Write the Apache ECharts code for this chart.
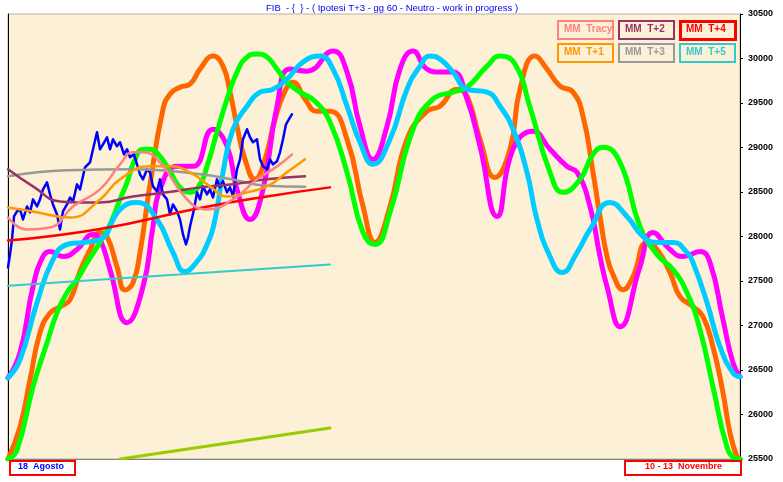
<!DOCTYPE html>
<html><head><meta charset="utf-8">
<script src="https://cdn.jsdelivr.net/npm/echarts@6/dist/echarts.min.js"></script>
<style>html,body{margin:0;padding:0;background:#fff}#c{width:783px;height:482px}</style>
</head><body><div id="c"></div>
<script>
// x = session step (0 = 18 Agosto, 732 = 13 Novembre), y = index level
const titleText = 'FIB  - {  } - ( Ipotesi T+3 - gg 60 - Neutro - work in progress )';
const yTicks = [25500, 26000, 26500, 27000, 27500, 28000, 28500, 29000, 29500, 30000, 30500];
const startLabel = '18  Agosto';
const endLabel = '10 - 13  Novembre';
const legendNames = ['MM  Tracy', 'MM  T+2', 'MM  T+4', 'MM  T+1', 'MM  T+3', 'MM  T+5'];

const cycleOrange = [[0,25500],[12,25860],[22,26390],[32,26920],[42,27140],[52,27210],[62,27290],[72,27610],[82,27850],[92,28045],[99,28000],[109,27660],[117,27400],[125,27480],[132,27820],[142,28586],[155,29430],[162,29599],[172,29678],[182,29712],[192,29881],[205,30027],[215,29914],[222,29622],[229,29239],[237,28867],[247,28642],[257,28867],[267,29318],[277,29633],[285,29734],[297,29543],[309,29408],[322,29408],[339,29092],[355,28338],[367,27933],[382,28338],[399,29092],[419,29408],[432,29464],[449,29655],[459,29577],[472,29092],[487,28664],[502,28980],[512,29655],[527,30027],[539,29881],[552,29689],[565,29622],[575,29351],[585,28721],[592,28225],[599,27775],[605,27572],[615,27403],[625,27550],[639,27933],[649,27854],[662,27595],[672,27324],[685,27212],[695,27099],[705,26761],[715,26243],[722,25793],[729,25523],[732,25500]];
const cycleGreen = [[0,25500],[9,25601],[25,26311],[39,26806],[49,27144],[59,27369],[69,27516],[79,27707],[92,27933],[102,28135],[112,28417],[119,28608],[127,28867],[135,28980],[142,28980],[152,28901],[162,28732],[172,28552],[182,28496],[192,28586],[199,28788],[209,29171],[219,29543],[229,29847],[239,30016],[249,30050],[259,30016],[269,29881],[279,29734],[292,29622],[307,29520],[322,29284],[339,28721],[355,28045],[367,27910],[382,28270],[405,29205],[425,29543],[445,29622],[459,29678],[479,29914],[492,30027],[507,29937],[522,29453],[542,28721],[555,28496],[572,28642],[585,28923],[595,29002],[612,28833],[632,28113],[649,27797],[665,27628],[679,27369],[692,26953],[705,26311],[719,25635],[727,25511],[732,25500]];
const cycleMagenta = [[0,26412],[12,26694],[25,27437],[35,27775],[42,27831],[55,27775],[69,27854],[85,28023],[92,27966],[102,27628],[119,27032],[135,27437],[145,28113],[152,28529],[169,28788],[185,28788],[205,29205],[219,29014],[229,28529],[242,28191],[255,28529],[269,29464],[282,29881],[299,29858],[325,30083],[339,29847],[352,29239],[365,28867],[379,29239],[392,29881],[405,30083],[419,29881],[432,29847],[445,29847],[459,29543],[472,29014],[489,28225],[505,28980],[525,29182],[542,28980],[559,28788],[569,28721],[582,28338],[592,27775],[599,27437],[612,26987],[632,27662],[645,28045],[662,27854],[675,27775],[692,27831],[702,27707],[715,27065],[725,26581],[732,26424]];
const cycleCyan = [[0,26412],[12,26615],[29,27257],[45,27741],[59,27910],[75,27933],[92,27966],[112,28304],[129,28383],[149,28191],[165,27820],[177,27606],[189,27719],[199,27910],[207,28191],[215,28721],[225,29205],[239,29464],[252,29622],[265,29655],[279,29768],[295,29960],[312,30027],[325,29881],[339,29464],[352,29059],[365,28811],[382,29092],[399,29655],[412,29914],[422,30027],[432,29993],[445,29847],[459,29655],[479,29622],[492,29464],[505,29205],[519,28721],[529,28191],[542,27775],[554,27595],[569,27820],[582,28079],[602,28383],[619,28225],[635,28000],[649,27933],[665,27933],[679,27820],[685,27707],[699,27257],[712,26761],[725,26469],[732,26424]];

const priceFib = [[0,27651],[2,27797],[4,27966],[6,28225],[9,28282],[12,28304],[15,28191],[19,28338],[22,28270],[25,28417],[29,28338],[32,28417],[35,28529],[39,28608],[42,28473],[45,28360],[49,28248],[52,28079],[55,28282],[59,28360],[62,28439],[65,28394],[69,28586],[72,28529],[77,28777],[82,28833],[85,28980],[89,29171],[92,28980],[95,29036],[99,29115],[102,28980],[105,29092],[109,29014],[112,29059],[116,28923],[119,28980],[122,28890],[126,28923],[129,28811],[132,28698],[135,28642],[139,28755],[142,28721],[145,28563],[149,28507],[152,28642],[155,28473],[159,28417],[162,28248],[165,28360],[169,28282],[172,28191],[175,28023],[178,27910],[180,27989],[182,28113],[186,28304],[189,28496],[192,28417],[195,28563],[199,28473],[202,28529],[205,28439],[209,28642],[212,28552],[215,28619],[219,28496],[222,28552],[225,28450],[229,28755],[232,28867],[235,29092],[239,29205],[242,29115],[245,29059],[249,29092],[252,28867],[255,28788],[259,28755],[262,28867],[265,28811],[269,28845],[272,28946],[275,29092],[278,29261],[281,29318],[284,29374]];

const mmTracy = [[0,28214],[19,28079],[42,28101],[65,28338],[92,28529],[112,28811],[125,28946],[135,28946],[152,28833],[179,28417],[199,28304],[225,28417],[249,28642],[269,28788],[284,28923]];
const mmT1 = [[0,28327],[25,28282],[62,28214],[92,28417],[112,28642],[142,28788],[162,28788],[182,28721],[202,28563],[219,28450],[239,28496],[259,28563],[279,28721],[297,28867]];
const mmT2 = [[0,28755],[25,28563],[52,28394],[72,28383],[92,28383],[125,28450],[159,28496],[192,28552],[225,28586],[259,28642],[297,28676]];
const mmT3 = [[0,28676],[59,28743],[125,28755],[192,28700],[225,28640],[259,28570],[297,28560]];
const mmT4 = [[0,27955],[92,28085],[192,28320],[259,28450],[322,28552]];
const mmT5 = [[0,27448],[322,27685]];
const trendLow = [[112,25500],[322,25849]];

const chart = echarts.init(document.getElementById('c'), null, {renderer: 'canvas'});
const FONT = 'Liberation Sans, Arial, sans-serif';

function line(name, data, color, width, smooth, z) {
  return {name: name, type: 'line', data: data, smooth: smooth, symbol: 'none', yAxisIndex: 0,
    lineStyle: {color: color, width: width, cap: 'round', join: 'round'}, z: z, silent: true, clip: true};
}

const legendColors = ['#ff8080', '#993366', '#ff0000', '#ff9900', '#999999', '#33cccc'];
const legendBoxes = [];
legendNames.forEach(function (n, i) {
  const col = i % 3, row = Math.floor(i / 3);
  const lx = 557 + col * 61, ly = 20 + row * 23;
  legendBoxes.push({type: 'rect', left: lx, top: ly, shape: {width: 55, height: 18},
    style: {fill: '#fcf0d6', stroke: legendColors[i], lineWidth: i === 2 ? 3 : 2}, z: 100});
  legendBoxes.push({type: 'text', left: lx + 7, top: ly + 4, style: {text: n, fill: legendColors[i],
    font: 'bold 10px ' + FONT}, z: 101});
});

chart.setOption({
  animation: false,
  backgroundColor: '#ffffff',
  grid: {left: 8, right: 43, top: 14, bottom: 23, show: true, backgroundColor: '#fcf0d6', borderColor: '#b8b0a0', borderWidth: 1},
  xAxis: {type: 'value', min: 0, max: 732, axisLine: {show: true, onZero: false, lineStyle: {color: '#808080', width: 1}},
    axisTick: {show: false}, axisLabel: {show: false}, splitLine: {show: false}},
  yAxis: [
    {type: 'value', position: 'right', min: 25500, max: 30500, interval: 500,
      axisLine: {show: true, onZero: false, lineStyle: {color: '#000', width: 1}},
      axisTick: {show: true, inside: false, length: 3, lineStyle: {color: '#000'}},
      axisLabel: {show: true, color: '#000', fontSize: 9, fontWeight: 'bold', fontFamily: FONT, margin: 8,
        formatter: function (v) { return yTicks.indexOf(v) >= 0 ? String(v) : ''; }},
      splitLine: {show: false}},
    {type: 'value', position: 'left', min: 25500, max: 30500, interval: 500,
      axisLine: {show: true, onZero: false, lineStyle: {color: '#000', width: 1}},
      axisTick: {show: false}, minorTick: {show: false}, axisLabel: {show: false}, splitLine: {show: false}}
  ],
  series: [
    line('ciclo A', cycleOrange, '#ff6600', 5, true, 2),
    line('ciclo B', cycleMagenta, '#ff00ff', 5, true, 3),
    line('ciclo C', cycleGreen, '#00ff00', 5, true, 4),
    line('ciclo D', cycleCyan, '#00ccff', 5, true, 5),
    line('MM T+5', mmT5, '#33cccc', 2, false, 6),
    line('trend', trendLow, '#99cc00', 3, false, 6),
    line('FIB', priceFib, '#0000ff', 2.5, false, 7),
    line('MM T+3', mmT3, '#999999', 2.5, true, 8),
    line('MM T+2', mmT2, '#993366', 2.5, true, 8),
    line('MM T+4', mmT4, '#ff0000', 2.5, true, 9),
    line('MM T+1', mmT1, '#ff9900', 2.5, true, 9),
    line('MM Tracy', mmTracy, '#ff8080', 2.5, true, 10)
  ],
  graphic: [
    {type: 'text', left: 266, top: 3, style: {text: titleText, fill: '#0000ee', font: '9.5px ' + FONT}, z: 100},
    {type: 'rect', left: 9, top: 460, shape: {width: 65, height: 14}, style: {fill: '#fff', stroke: '#ff0000', lineWidth: 2}, z: 100},
    {type: 'text', left: 18, top: 462, style: {text: startLabel, fill: '#0000ff', font: 'bold 9px ' + FONT}, z: 101},
    {type: 'rect', left: 624, top: 460, shape: {width: 116, height: 14}, style: {fill: '#fff', stroke: '#ff0000', lineWidth: 2}, z: 100},
    {type: 'text', left: 645, top: 462, style: {text: endLabel, fill: '#ff0000', font: 'bold 9px ' + FONT}, z: 101}
  ].concat(legendBoxes)
});
</script></body></html>
